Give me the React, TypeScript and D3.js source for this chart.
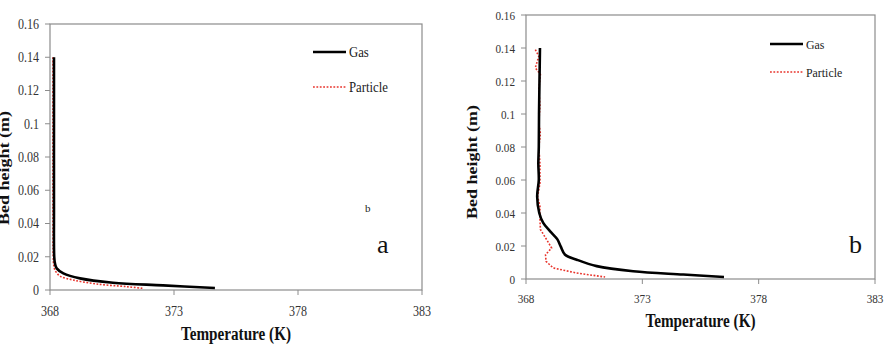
import React from "react";
import * as d3 from "d3";

// temperature (K), bed height (m)
const gasA: [number, number][] = [
  [368.16, 0.14], [368.16, 0.1], [368.16, 0.05], [368.17, 0.02], [368.2, 0.016],
  [368.27, 0.013], [368.54, 0.01], [369.21, 0.007], [370.54, 0.0044],
  [372.56, 0.0028], [374.65, 0.0012],
];
const particleA: [number, number][] = [
  [368.12, 0.14], [368.12, 0.05], [368.13, 0.02], [368.15, 0.015], [368.2, 0.012],
  [368.4, 0.0084], [368.94, 0.006], [369.88, 0.0036], [371.09, 0.002], [371.75, 0.001],
];
const gasB: [number, number][] = [
  [368.6, 0.14], [368.58, 0.12], [368.56, 0.1], [368.55, 0.08], [368.53, 0.07],
  [368.55, 0.06], [368.48, 0.05], [368.57, 0.04], [368.74, 0.034], [369.03, 0.029],
  [369.35, 0.024], [369.49, 0.0198], [369.68, 0.0147], [370.18, 0.0117],
  [371.04, 0.0078], [372.61, 0.0047], [374.76, 0.0027], [376.51, 0.0012],
];
const particleB: [number, number][] = [
  [368.4, 0.139], [368.55, 0.135], [368.4, 0.128], [368.62, 0.124], [368.55, 0.115],
  [368.6, 0.105], [368.55, 0.095], [368.62, 0.088], [368.55, 0.08], [368.6, 0.07],
  [368.6, 0.058], [368.5, 0.05], [368.6, 0.044], [368.6, 0.036], [368.62, 0.03],
  [368.89, 0.0238], [369.1, 0.0188], [368.84, 0.0147], [368.86, 0.0107],
  [369.17, 0.0067], [370.18, 0.0036], [371.4, 0.0012],
];

const xTicks = [368, 373, 378, 383];
const yTicks = [0, 0.02, 0.04, 0.06, 0.08, 0.1, 0.12, 0.14, 0.16];
const seriesNames = ["Gas", "Particle"];

const FONT = '"Liberation Serif", "Times New Roman", Times, serif';

// narrow text: scale glyphs horizontally around the anchor point
function NText(props: {
  x: number;
  y: number;
  s?: number;
  size: number;
  anchor?: "start" | "middle" | "end";
  bold?: boolean;
  fill?: string;
  dy?: string;
  children: React.ReactNode;
}) {
  return (
    <text
      transform={`translate(${props.x},${props.y}) scale(${props.s ?? 0.86},1)`}
      dy={props.dy}
      textAnchor={props.anchor ?? "start"}
      fontSize={props.size}
      fontWeight={props.bold ? "bold" : "normal"}
      fill={props.fill ?? "#222"}
    >
      {props.children}
    </text>
  );
}

type PanelProps = {
  gas: [number, number][];
  particle: [number, number][];
  particleCurve: d3.CurveFactory;
  left: number;
  right: number;
  top: number;
  bottom: number;
  tickSize: number;
  yLabelX: number;
  yLabelY: number;
  xTitleY: number;
  xTickY: number;
  legendX: number;
  legendY: number;
  legendGap: number;
  tag: string;
  tagX: number;
  tagY: number;
  extra?: React.ReactNode;
};

function Panel(p: PanelProps) {
  const x = d3.scaleLinear().domain([368, 383]).range([p.left, p.right]);
  const y = d3.scaleLinear().domain([0, 0.16]).range([p.bottom, p.top]);
  const gasLine = d3
    .line<[number, number]>()
    .x((d) => x(d[0]))
    .y((d) => y(d[1]))
    .curve(d3.curveCatmullRom.alpha(0.5));
  const partLine = d3
    .line<[number, number]>()
    .x((d) => x(d[0]))
    .y((d) => y(d[1]))
    .curve(p.particleCurve);
  const grey = "#8c8c8c";
  return (
    <g style={{ fontFamily: FONT }}>
      <rect
        x={p.left}
        y={p.top}
        width={p.right - p.left}
        height={p.bottom - p.top}
        fill="none"
        stroke={grey}
        strokeWidth={1.2}
      />
      {yTicks.map((t) => (
        <g key={t}>
          <line x1={p.left - 5} x2={p.left} y1={y(t)} y2={y(t)} stroke={grey} />
          <NText x={p.left - 11} y={y(t)} dy="0.35em" anchor="end" size={p.tickSize} fill="#333">
            {t}
          </NText>
        </g>
      ))}
      {xTicks.map((t) => (
        <g key={t}>
          <line x1={x(t)} x2={x(t)} y1={p.bottom} y2={p.bottom + 5} stroke={grey} />
          <NText x={x(t)} y={p.xTickY} anchor="middle" size={p.tickSize} fill="#333">
            {t}
          </NText>
        </g>
      ))}
      <path d={partLine(p.particle) ?? ""} fill="none" stroke="#e8342c" strokeWidth={1.6} strokeDasharray="1.8,1.6" />
      <path d={gasLine(p.gas) ?? ""} fill="none" stroke="#000" strokeWidth={2.6} />
      <NText x={(p.left + p.right) / 2} y={p.xTitleY} anchor="middle" bold size={19} s={0.8} fill="#111">
        Temperature (K)
      </NText>
      <text
        transform={`translate(${p.yLabelX},${p.yLabelY}) rotate(-90) scale(1,0.85)`}
        textAnchor="middle"
        fontWeight="bold"
        fontSize={18}
        fill="#111"
      >
        Bed height (m)
      </text>
      <line x1={p.legendX} x2={p.legendX + 33} y1={p.legendY} y2={p.legendY} stroke="#000" strokeWidth={2.6} />
      <line
        x1={p.legendX}
        x2={p.legendX + 33}
        y1={p.legendY + p.legendGap}
        y2={p.legendY + p.legendGap}
        stroke="#e8342c"
        strokeWidth={1.6}
        strokeDasharray="1.8,1.6"
      />
      {seriesNames.map((n, i) => (
        <NText key={n} x={p.legendX + 36} y={p.legendY + i * p.legendGap} dy="0.35em" size={p.tickSize + 0.5} s={0.88}>
          {n}
        </NText>
      ))}
      <text x={p.tagX} y={p.tagY} fontSize={26} fill="#111">
        {p.tag}
      </text>
      {p.extra}
    </g>
  );
}

export default function App() {
  return (
    <svg
      width={887}
      height={346}
      style={{ position: "absolute", left: 0, top: 0, background: "#fff" }}
    >
      <Panel
        gas={gasA}
        particle={particleA}
        particleCurve={d3.curveCatmullRom.alpha(0.5)}
        left={50}
        right={422}
        top={24}
        bottom={290}
        tickSize={14}
        yLabelX={9}
        yLabelY={168}
        xTitleY={340}
        xTickY={316}
        legendX={313}
        legendY={52}
        legendGap={35}
        tag="a"
        tagX={377}
        tagY={253}
        extra={
          <text x={365} y={212} fontSize={11} fill="#222">
            b
          </text>
        }
      />
      <Panel
        gas={gasB}
        particle={particleB}
        particleCurve={d3.curveLinear}
        left={526}
        right={875}
        top={15}
        bottom={279}
        tickSize={13}
        yLabelX={477}
        yLabelY={162}
        xTitleY={327}
        xTickY={303}
        legendX={770}
        legendY={44}
        legendGap={28}
        tag="b"
        tagX={849}
        tagY={253}
      />
    </svg>
  );
}
